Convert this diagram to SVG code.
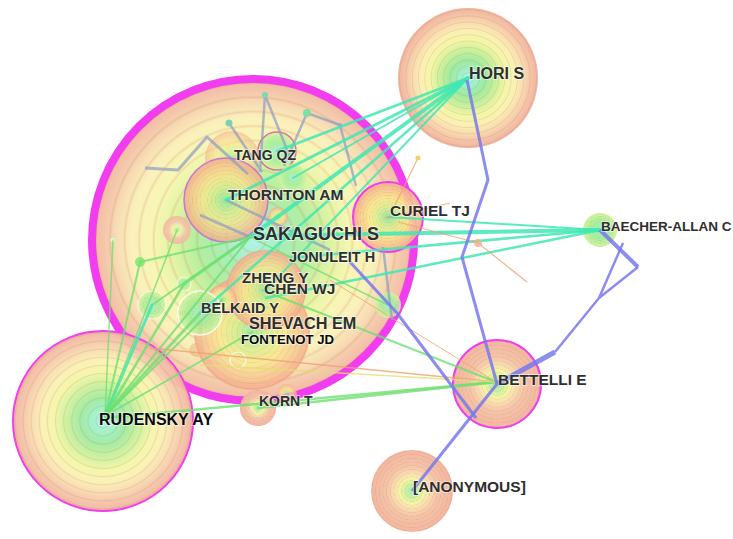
<svg xmlns="http://www.w3.org/2000/svg" width="733" height="539" viewBox="0 0 733 539">
<defs>
<radialGradient id="yr" cx="0.5" cy="0.5" r="0.5">
<stop offset="0" stop-color="#a8f4ec"/>
<stop offset="0.12" stop-color="#a0f0c8"/>
<stop offset="0.25" stop-color="#9eeaa0"/>
<stop offset="0.40" stop-color="#c8f09c"/>
<stop offset="0.55" stop-color="#f4f6a8"/>
<stop offset="0.68" stop-color="#faf0b4"/>
<stop offset="0.80" stop-color="#f8dab0"/>
<stop offset="0.90" stop-color="#f4c4a8"/>
<stop offset="1" stop-color="#f0b4a0"/>
</radialGradient>
<radialGradient id="yrA" cx="0.5" cy="0.5" r="0.5">
<stop offset="0" stop-color="#b0f4e8"/>
<stop offset="0.2" stop-color="#a8eeb4"/>
<stop offset="0.35" stop-color="#b4eea0"/>
<stop offset="0.5" stop-color="#e0f4a4"/>
<stop offset="0.62" stop-color="#f8f6b4"/>
<stop offset="0.76" stop-color="#faf0bc"/>
<stop offset="0.85" stop-color="#f8dcb4"/>
<stop offset="0.92" stop-color="#f4c8ac"/>
<stop offset="1" stop-color="#f2b8a4"/>
</radialGradient>
<radialGradient id="yrB" cx="0.5" cy="0.5" r="0.5">
<stop offset="0" stop-color="#a8f0c8"/>
<stop offset="0.15" stop-color="#c8f0a0"/>
<stop offset="0.3" stop-color="#f4f4a8"/>
<stop offset="0.45" stop-color="#f8dcb0"/>
<stop offset="0.62" stop-color="#f4c4a8"/>
<stop offset="1" stop-color="#f2b6a0"/>
</radialGradient>
<radialGradient id="yrC" cx="0.5" cy="0.5" r="0.5">
<stop offset="0" stop-color="#90e8a0"/>
<stop offset="0.3" stop-color="#d8ee90"/>
<stop offset="0.55" stop-color="#f8e890"/>
<stop offset="0.8" stop-color="#f8c890"/>
<stop offset="1" stop-color="#f4a890"/>
</radialGradient>
<radialGradient id="yrG" cx="0.5" cy="0.5" r="0.5">
<stop offset="0" stop-color="#a0f0d8"/>
<stop offset="0.5" stop-color="#a6ee9c"/>
<stop offset="1" stop-color="#d4f4a0"/>
</radialGradient>
<radialGradient id="ring" cx="0.5" cy="0.5" r="0.045" spreadMethod="repeat">
<stop offset="0" stop-color="#c07040" stop-opacity="0"/>
<stop offset="0.72" stop-color="#c07040" stop-opacity="0"/>
<stop offset="0.86" stop-color="#c07040" stop-opacity="0.18"/>
<stop offset="1" stop-color="#c07040" stop-opacity="0"/>
</radialGradient>
<style>
.lab{font-family:"Liberation Sans",Arial,sans-serif;font-weight:bold;fill:#2e2e2e;stroke:#fff;stroke-width:2;stroke-opacity:0.55;paint-order:stroke;}
.blk{fill:#0a0a0a;}
.rg{fill:url(#ring);}
.t{stroke:#3ee8b4;stroke-opacity:0.85;fill:none;stroke-linecap:round;}
.g{stroke:#6ee070;stroke-opacity:0.8;fill:none;stroke-linecap:round;}
.o{stroke:#f0a070;stroke-opacity:0.8;fill:none;}
.y{stroke:#e0e070;stroke-opacity:0.8;fill:none;}
.s{stroke:#8a9cc4;stroke-opacity:0.7;fill:none;stroke-linejoin:round;}
.b{stroke:#7878ee;stroke-opacity:0.85;fill:none;stroke-linejoin:round;}
</style>
</defs>
<rect width="733" height="539" fill="#fff"/>

<g id="node-sakaguchi">
<circle cx="253" cy="240" r="161" fill="url(#yrA)"/>
<circle cx="253" cy="240" r="161" class="rg"/>
<circle cx="253" cy="240" r="161" fill="none" stroke="#f23cf0" stroke-width="8"/>
</g>
<g id="node-hori">
<circle cx="468" cy="78" r="70" fill="url(#yr)"/>
<circle cx="468" cy="78" r="70" class="rg"/>
</g>
<g id="node-rudensky">
<circle cx="103" cy="421" r="90" fill="url(#yr)" fill-opacity="0.95"/>
<circle cx="103" cy="421" r="90" class="rg"/>
<circle cx="103" cy="421" r="90" fill="none" stroke="#f23cf0" stroke-width="2"/>
</g>
<g id="node-bettelli">
<circle cx="497" cy="384" r="44" fill="url(#yrB)"/>
<circle cx="497" cy="384" r="44" class="rg"/>
<circle cx="497" cy="384" r="44" fill="none" stroke="#f23cf0" stroke-width="2"/>
</g>
<g id="node-anonymous">
<circle cx="412" cy="491" r="41" fill="url(#yrB)"/>
<circle cx="412" cy="491" r="41" class="rg"/>
</g>
<g id="node-baecher">
<circle cx="600" cy="230" r="17" fill="url(#yrG)"/>
<circle cx="600" cy="230" r="17" class="rg"/>
</g>
<g id="node-curiel">
<circle cx="388" cy="217" r="35" fill="url(#yrC)" fill-opacity="0.9"/>
<circle cx="388" cy="217" r="35" class="rg"/>
<circle cx="388" cy="217" r="35" fill="none" stroke="#f23cf0" stroke-width="2"/>
</g>
<g id="node-korn">
<circle cx="258" cy="408" r="18" fill="url(#yrB)"/>
<circle cx="258" cy="408" r="18" class="rg"/>
<circle cx="287" cy="394" r="10" fill="url(#yrC)" fill-opacity="0.7"/>
</g>
<g id="node-shevach" opacity="0.8">
<circle cx="252" cy="332" r="58" fill="url(#yrC)"/>
<circle cx="252" cy="332" r="58" class="rg"/>
</g>
<g id="node-chen" opacity="0.85">
<circle cx="266" cy="290" r="40" fill="url(#yrC)"/>
<circle cx="266" cy="290" r="40" class="rg"/>
</g>
<g id="node-belkaid" opacity="0.9">
<circle cx="222" cy="300" r="15" fill="url(#yrC)"/>
<circle cx="200" cy="313" r="22" fill="url(#yrG)" stroke="#fff" stroke-width="1.5"/>
<circle cx="200" cy="313" r="22" class="rg"/>
</g>
<g id="node-thornton" opacity="0.9">
<circle cx="232" cy="158" r="27" fill="url(#yrC)" fill-opacity="0.6"/>
<circle cx="226" cy="200" r="42" fill="url(#yrC)" fill-opacity="0.9"/>
<circle cx="226" cy="200" r="42" class="rg"/>
<circle cx="226" cy="200" r="42" fill="none" stroke="#c070d0" stroke-width="1.5"/>
</g>
<g id="node-tang" opacity="0.9">
<circle cx="277" cy="151" r="19" fill="url(#yrG)"/>
<circle cx="277" cy="151" r="19" fill="none" stroke="#e060a0" stroke-width="1.5"/>
</g>
<g id="node-minor" opacity="0.85">
<circle cx="293" cy="178" r="14" fill="url(#yrG)"/>
<circle cx="278" cy="217" r="10" fill="url(#yrC)"/>
<circle cx="177" cy="230" r="14" fill="url(#yrB)"/>
<circle cx="152" cy="305" r="14" fill="url(#yrG)" stroke="#fff" stroke-width="1"/>
<circle cx="152" cy="305" r="14" class="rg"/>
<circle cx="184" cy="284" r="7" fill="url(#yrG)" stroke="#fff" stroke-width="1"/>
<circle cx="140" cy="262" r="5" fill="#7ee870"/>
<circle cx="113" cy="240" r="2.5" fill="#fff" stroke="#c8e8b0"/>
<circle cx="388" cy="305" r="13" fill="url(#yrG)"/>
<circle cx="238" cy="360" r="8" fill="none" stroke="#fff" stroke-width="1.2"/>
<circle cx="196" cy="350" r="7" fill="#f0b080" fill-opacity="0.6"/>
</g>

<g id="connectors">
<path class="s" stroke-width="3" d="M145,168 L178,170 L207,137 L248,174"/>
<path class="s" stroke-width="2.5" d="M229,123 L262,172 M265,95 L260,172 M265,95 L292,162 M307,113 L284,166 M340,125 L356,186 M307,113 L340,125"/>
<path class="s" stroke-width="2.5" d="M226,200 L330,250 M383,247 L392,320 M200,215 L250,237"/>
<circle cx="265" cy="95" r="3" fill="#7ed8a8"/>
<circle cx="307" cy="113" r="4" fill="#7ee0a0"/>
<circle cx="229" cy="123" r="3.5" fill="#80d0b0"/>
<circle cx="340" cy="125" r="2" fill="#a0a8c8"/>
<path class="t" stroke-width="4" d="M250,237 L468,78"/>
<path class="t" stroke-width="3" d="M226,200 L468,78"/>
<path class="t" stroke-width="2.5" d="M277,151 L468,78"/>
<path class="t" stroke-width="2.5" d="M200,313 L468,78"/>
<path class="t" stroke-width="2" d="M266,290 L468,78"/>
<path class="t" stroke-width="2" d="M293,178 L468,78"/>
<path class="t" stroke-width="4" d="M253,236 L600,230"/>
<path class="t" stroke-width="2.5" d="M290,258 L600,230"/>
<path class="t" stroke-width="2.5" d="M266,298 L600,230"/>
<path class="t" stroke-width="2" d="M388,217 L600,230"/>
<path class="g" stroke-width="1.5" d="M105,416 L113,240"/>
<path class="g" stroke-width="2" d="M105,416 L140,262"/>
<path class="t" stroke-width="3" d="M105,416 L152,305"/>
<path class="g" stroke-width="2.5" d="M105,416 L184,284"/>
<path class="g" stroke-width="3" d="M105,416 L200,313"/>
<path class="g" stroke-width="2" d="M105,416 L222,300"/>
<path class="g" stroke-width="2" d="M105,416 L250,237"/>
<path class="g" stroke-width="1.5" d="M105,416 L177,230"/>
<path class="g" stroke-width="2" d="M105,416 L252,332"/>
<path class="g" stroke-width="2" d="M250,237 L140,262"/>
<path class="g" stroke-width="3" d="M250,237 L184,284"/>
<path class="g" stroke-width="2" d="M250,237 L152,305"/>
<path class="g" stroke-width="1.5" d="M250,237 L388,305"/>
<path class="g" stroke-width="2" d="M262,290 L496,382"/>
<path class="g" stroke-width="2.5" d="M105,418 L496,382"/>
<path class="g" stroke-width="2.5" d="M258,408 L496,382"/>
<path class="o" stroke-width="1.5" d="M150,348 L496,382"/>
<path class="o" stroke-width="1" d="M330,280 L496,382"/>
<path class="y" stroke-width="1.5" d="M200,365 L496,382"/>
<path class="o" stroke-width="1.2" d="M398,222 L478,243 L527,282 M385,218 L450,203 M418,158 L395,205"/>
<circle cx="478" cy="243" r="4" fill="#f0b088" fill-opacity="0.8"/>
<circle cx="418" cy="158" r="2.5" fill="#f0d070"/>
<path class="b" stroke-width="3" d="M467,80 L488,180 L462,257 L497,384"/>
<path class="b" stroke-width="3" d="M412,491 L497,384"/>
<path class="b" stroke-width="3" d="M350,262 L397,313 L476,418"/>
<path class="b" stroke-width="5" d="M497,384 L555,352"/>
<path class="b" stroke-width="2.5" d="M555,352 L599,298 L623,243 M599,298 L638,267"/>
<path class="b" stroke-width="4" d="M638,267 L600,230"/>
</g>

<g id="labels">
<text class="lab" x="469" y="79" font-size="16">HORI S</text>
<text class="lab" x="253" y="240" font-size="18">SAKAGUCHI S</text>
<text class="lab" x="234" y="160" font-size="14">TANG QZ</text>
<text class="lab" x="228" y="200" font-size="15.5">THORNTON AM</text>
<text class="lab" x="390" y="216" font-size="15.5">CURIEL TJ</text>
<text class="lab" x="289" y="262" font-size="14.5">JONULEIT H</text>
<text class="lab" x="242" y="283" font-size="15">ZHENG Y</text>
<text class="lab" x="264" y="294" font-size="15.5">CHEN WJ</text>
<text class="lab" x="201" y="313" font-size="14.5">BELKAID Y</text>
<text class="lab" x="249" y="329" font-size="16.3">SHEVACH EM</text>
<text class="lab blk" x="241" y="344" font-size="13.2">FONTENOT JD</text>
<text class="lab" x="259" y="406" font-size="14">KORN T</text>
<text class="lab blk" x="99" y="425" font-size="16">RUDENSKY AY</text>
<text class="lab" x="498" y="385" font-size="15.5">BETTELLI E</text>
<text class="lab" x="413" y="492" font-size="15.5">[ANONYMOUS]</text>
<text class="lab" x="601" y="231" font-size="13.5">BAECHER-ALLAN C</text>
</g>
</svg>
